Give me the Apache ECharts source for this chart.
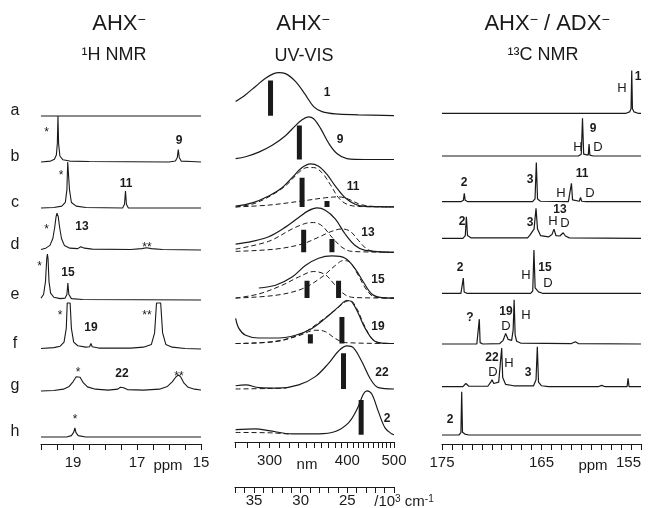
<!DOCTYPE html>
<html>
<head>
<meta charset="utf-8">
<script src="https://cdn.jsdelivr.net/npm/echarts@6/dist/echarts.min.js"></script>
<style>
    html, body { margin: 0; background: #fff; }
    #chart { width: 656px; height: 508px; }
</style>
</head>
<body>
<div id="chart"></div>
<script>
const FONT = '"Liberation Sans", Arial, sans-serif'
const INK = '#1a1a1a'
const ROW = 46          // px for an intensity of 1.0
const AXIS_Y = 444      // bottom edge of the grids (px)
const TICK_FONT = 15

const rowLetters = ['a', 'b', 'c', 'd', 'e', 'f', 'g', 'h']

// ---- 1H NMR, [ppm, intensity] ----
const h1a = [[20, 0], [15, 0]]
const h1b = [[20, 0], [19.7, 0.02], [19.58, 0.06], [19.52, 0.15], [19.49, 0.4], [19.47, 1.0], [19.45, 0.4], [19.41, 0.13], [19.32, 0.05], [19.1, 0.02], [18.5, 0.01], [16.0, 0], [15.8, 0.02], [15.74, 0.1], [15.71, 0.27], [15.68, 0.1], [15.62, 0.02], [15.3, 0.01], [15, 0]]
const h1c = [[20, 0], [19.6, 0.01], [19.35, 0.04], [19.24, 0.12], [19.19, 0.4], [19.165, 1.0], [19.135, 1.0], [19.11, 0.4], [19.05, 0.12], [18.9, 0.04], [18.6, 0.01], [17.45, 0], [17.39, 0.08], [17.36, 0.37], [17.33, 0.08], [17.27, 0], [15, 0]]
const h1d = [[20, 0.01], [19.85, 0.04], [19.72, 0.1], [19.63, 0.25], [19.57, 0.5], [19.53, 0.72], [19.5, 0.8], [19.46, 0.72], [19.42, 0.5], [19.36, 0.25], [19.27, 0.1], [19.1, 0.04], [18.85, 0.03], [18.76, 0.07], [18.7, 0.08], [18.64, 0.04], [18.4, 0.02], [17.2, 0.01], [16.85, 0.03], [16.7, 0.05], [16.55, 0.03], [16.2, 0.01], [15, 0]]
const h1e = [[20, 0.04], [19.92, 0.12], [19.86, 0.4], [19.82, 0.9], [19.8, 1.0], [19.78, 0.9], [19.75, 0.4], [19.7, 0.15], [19.6, 0.06], [19.4, 0.03], [19.25, 0.04], [19.19, 0.12], [19.16, 0.37], [19.13, 0.12], [19.05, 0.03], [18.7, 0.01], [15, 0]]
const h1f = [[20, 0.01], [19.6, 0.03], [19.4, 0.06], [19.28, 0.15], [19.21, 0.45], [19.18, 1.0], [19.09, 1.0], [19.05, 0.45], [18.98, 0.15], [18.85, 0.07], [18.6, 0.04], [18.48, 0.05], [18.44, 0.12], [18.4, 0.05], [18.2, 0.02], [17.2, 0.02], [16.8, 0.04], [16.55, 0.1], [16.45, 0.35], [16.39, 1.0], [16.26, 1.0], [16.2, 0.35], [16.1, 0.1], [15.9, 0.04], [15.5, 0.01], [15, 0]]
const h1g = [[20, 0], [19.6, 0.01], [19.3, 0.04], [19.12, 0.1], [19.0, 0.2], [18.9, 0.31], [18.84, 0.35], [18.78, 0.3], [18.68, 0.18], [18.55, 0.09], [18.3, 0.04], [17.9, 0.02], [17.6, 0.04], [17.52, 0.08], [17.47, 0.12], [17.42, 0.07], [17.3, 0.03], [16.8, 0.02], [16.3, 0.04], [16.05, 0.1], [15.9, 0.2], [15.78, 0.31], [15.7, 0.35], [15.63, 0.3], [15.53, 0.17], [15.4, 0.08], [15.2, 0.04], [15, 0.02]]
const h1h = [[20, 0], [19.2, 0], [19.05, 0.03], [18.98, 0.1], [18.94, 0.2], [18.91, 0.1], [18.84, 0.03], [18.6, 0], [15, 0]]
const h1Traces = [h1a, h1b, h1c, h1d, h1e, h1f, h1g, h1h]

// ---- UV-VIS, [10^3 cm^-1, absorbance] ----
const uvA = [[36.97, 0.31], [35.9, 0.46], [34.84, 0.64], [33.77, 0.82], [32.88, 0.92], [32.35, 0.94], [31.63, 0.92], [30.56, 0.75], [29.5, 0.46], [28.61, 0.2], [27.71, 0.09], [26.3, 0.04], [23.81, 0.02], [20, 0]]
const uvB = [[36.97, 0.02], [35.9, 0.06], [34.48, 0.16], [33.05, 0.31], [31.63, 0.52], [30.56, 0.74], [29.85, 0.87], [29.15, 0.93], [28.61, 0.89], [27.9, 0.69], [27.01, 0.36], [26.12, 0.13], [25.05, 0.02], [23.09, 0], [20, 0]]
const uvC = [[36.97, 0.02], [35.19, 0.09], [33.42, 0.24], [31.99, 0.42], [30.92, 0.64], [29.85, 0.86], [28.96, 0.94], [28.08, 0.89], [27.18, 0.71], [26.3, 0.46], [25.23, 0.2], [24.16, 0.06], [23.09, 0.01], [20, 0]]
const uvC1 = [[36.97, 0], [35.19, 0.06], [33.42, 0.22], [31.63, 0.46], [30.21, 0.75], [29.32, 0.86], [28.61, 0.86], [27.72, 0.75], [26.83, 0.49], [25.94, 0.2], [25.05, 0.06], [23.81, 0.01], [20, 0]]
const uvC2 = [[36.97, 0], [33.42, 0.04], [29.85, 0.13], [27.36, 0.2], [25.94, 0.22], [24.88, 0.17], [23.81, 0.07], [22.74, 0.02], [20, 0]]
const uvD = [[36.97, 0.18], [35.19, 0.24], [33.42, 0.34], [31.63, 0.55], [30.21, 0.76], [29.15, 0.91], [28.26, 0.97], [27.36, 0.92], [26.3, 0.73], [25.23, 0.4], [24.16, 0.15], [23.09, 0.04], [20, 0]]
const uvD1 = [[36.97, 0.07], [33.42, 0.24], [30.92, 0.51], [29.5, 0.63], [28.61, 0.65], [27.72, 0.58], [26.65, 0.33], [25.58, 0.11], [24.52, 0.02], [20, 0]]
const uvD2 = [[36.97, 0.02], [32.7, 0.07], [29.85, 0.18], [28.08, 0.33], [26.65, 0.46], [25.58, 0.51], [24.7, 0.46], [23.81, 0.26], [22.91, 0.07], [22.03, 0.02], [20, 0]]
const uvE = [[34.48, 0.22], [32.7, 0.28], [30.92, 0.46], [29.5, 0.71], [28.08, 0.87], [26.65, 0.92], [25.23, 0.87], [24.16, 0.64], [23.28, 0.35], [22.38, 0.09], [21.31, 0.01], [20, 0]]
const uvE1 = [[36.97, 0], [34.48, 0.09], [31.99, 0.28], [30.21, 0.46], [28.61, 0.58], [27.36, 0.51], [26.3, 0.28], [25.23, 0.07], [24.16, 0.01], [20, 0]]
const uvE2 = [[36.97, 0], [32.7, 0.06], [29.85, 0.2], [27.72, 0.46], [26.3, 0.71], [25.41, 0.82], [24.7, 0.78], [23.81, 0.49], [22.91, 0.17], [22.03, 0.02], [20, 0]]
const uvF = [[36.97, 0.55], [36.62, 0.33], [35.9, 0.18], [34.48, 0.12], [32.35, 0.12], [30.56, 0.18], [28.79, 0.33], [27.36, 0.55], [25.94, 0.8], [25.05, 0.94], [24.52, 0.91], [23.81, 0.65], [23.09, 0.33], [22.2, 0.07], [21.31, 0.01], [20, 0]]
const uvF1 = [[36.97, 0], [32.7, 0.04], [30.21, 0.17], [28.43, 0.29], [27.36, 0.26], [26.3, 0.11], [25.23, 0.02], [20, 0]]
const uvF2 = [[36.97, 0], [32.7, 0.05], [29.85, 0.22], [27.72, 0.51], [26.3, 0.73], [25.23, 0.91], [24.7, 0.94], [23.98, 0.76], [23.28, 0.44], [22.38, 0.11], [21.49, 0.01], [20, 0]]
const uvG = [[36.97, 0.07], [35.9, 0.09], [34.48, 0.03], [32.35, 0.02], [30.21, 0.09], [28.43, 0.27], [27.01, 0.56], [25.94, 0.83], [25.05, 0.94], [24.34, 0.9], [23.45, 0.6], [22.56, 0.23], [21.68, 0.03], [20, 0]]
const uvG1 = [[36.97, 0], [33.5, 0.01], [31.5, 0.02]]
const uvH = [[36.97, 0.11], [34.84, 0.13], [33.42, 0.09], [30.92, 0.02], [28.08, 0.02], [26.3, 0.07], [24.88, 0.26], [23.98, 0.55], [23.28, 0.89], [22.91, 0.96], [22.38, 0.89], [21.68, 0.51], [20.96, 0.15], [20.25, 0.02], [20, 0]]
const uvH1 = [[36.97, 0.05], [33, 0.04], [31, 0.01]]
const uvSolid = [uvA, uvB, uvC, uvD, uvE, uvF, uvG, uvH]
const uvDashed = [[], [], [uvC1, uvC2], [uvD1, uvD2], [uvE1, uvE2], [uvF1, uvF2], [uvG1], [uvH1]]
// calculated transitions, [10^3 cm^-1, strength]
const uvBars = [
    [[33.23, 0.77]],
    [[30.14, 0.74]],
    [[29.85, 0.64], [27.18, 0.13]],
    [[29.68, 0.49], [26.65, 0.29]],
    [[29.32, 0.38], [25.94, 0.38]],
    [[28.96, 0.2], [25.58, 0.58]],
    [[25.41, 0.78]],
    [[23.52, 0.76]]
]

// ---- 13C NMR, [ppm, intensity] ----
const c13a = [[175, 0], [156.5, 0], [156.15, 0.03], [156.0, 0.1], [155.93, 0.93], [155.86, 0.1], [155.7, 0.03], [155.3, 0], [155, 0]]
const c13b = [[175, 0], [161.3, 0], [161.0, 0.04], [160.88, 0.82], [160.76, 0.04], [160.3, 0.02], [160.22, 0.26], [160.14, 0.02], [159.8, 0], [155, 0]]
const c13c = [[175, 0], [173.1, 0], [172.85, 0.03], [172.76, 0.18], [172.67, 0.03], [172.4, 0], [165.9, 0], [165.65, 0.06], [165.52, 0.85], [165.4, 0.06], [165.1, 0.01], [162.3, 0], [162.1, 0.04], [161.99, 0.4], [161.88, 0.04], [161.2, 0.01], [161.08, 0.09], [160.96, 0.01], [160.5, 0], [155, 0]]
const c13d = [[175, 0], [172.9, 0], [172.66, 0.06], [172.55, 0.47], [172.44, 0.06], [172.1, 0.01], [166.4, 0.01], [166.2, 0.06], [166.05, 0.04], [165.75, 0.2], [165.55, 0.65], [165.4, 0.2], [165.1, 0.06], [164.3, 0.03], [163.95, 0.08], [163.75, 0.2], [163.55, 0.06], [163.15, 0.05], [162.82, 0.12], [162.6, 0.05], [162.2, 0.01], [155, 0]]
const c13e = [[175, 0], [173.1, 0], [172.95, 0.03], [172.86, 0.33], [172.77, 0.03], [172.5, 0], [166.1, 0], [165.88, 0.05], [165.76, 0.94], [165.64, 0.12], [165.5, 0.1], [165.3, 0.03], [164.9, 0], [155, 0]]
const c13f = [[175, 0], [171.5, 0], [171.33, 0.03], [171.25, 0.54], [171.17, 0.03], [170.9, 0], [169.2, 0.01], [168.85, 0.08], [168.6, 0.23], [168.35, 0.1], [168.0, 0.08], [167.85, 0.3], [167.75, 0.96], [167.65, 0.2], [167.5, 0.06], [167.1, 0.02], [162, 0.01], [161.6, 0.05], [161.3, 0.01], [155, 0]]
const c13g = [[175, 0], [172.9, 0], [172.6, 0.07], [172.3, 0.01], [170.4, 0.01], [170.1, 0.1], [169.97, 0.15], [169.8, 0.07], [169.3, 0.1], [169.1, 0.6], [169.0, 0.84], [168.9, 0.2], [168.6, 0.05], [167.8, 0.02], [165.8, 0.02], [165.55, 0.15], [165.42, 0.87], [165.3, 0.1], [165.0, 0.02], [164.3, 0], [159.3, 0], [158.95, 0.03], [158.6, 0], [156.4, 0], [156.3, 0.18], [156.2, 0], [155, 0]]
const c13h = [[175, 0], [173.3, 0], [173.1, 0.05], [173.02, 0.94], [172.94, 0.06], [172.7, 0.02], [172.3, 0], [155, 0]]
const c13Traces = [c13a, c13b, c13c, c13d, c13e, c13f, c13g, c13h]

// ---- axis ticks ----
const h1Ticks = [15, 15.5, 16, 16.5, 17, 17.5, 18, 18.5, 19, 19.5, 20]
const h1Labels = [15, 17, 19]
const nmTicks = [270, 280, 290, 300, 310, 320, 330, 340, 350, 360, 370, 380, 390, 400, 410, 420, 430, 440, 450, 460, 470, 480, 490, 500]
const nmLabels = [500, 400, 300]
const kTicks = [20, 21, 22, 23, 24, 25, 26, 27, 28, 29, 30, 31, 32, 33, 34, 35, 36, 37]
const kLabels = [25, 30, 35]
const c13Ticks = [155, 156, 157, 158, 159, 160, 161, 162, 163, 164, 165, 166, 167, 168, 169, 170, 171, 172, 173, 174, 175]
const c13Labels = [155, 165, 175]

// ---- layout: baseline of each row (px) ----
const baseH1 = [116, 162, 208, 250, 300, 349, 391, 437]
const baseUV = [116, 160, 207.7, 253.3, 299.3, 345, 390.7, 436.7]
const baseC13 = [113.3, 156, 201.7, 238.3, 293.3, 344, 386.7, 435]

// ---- annotations [x, y, text, kind] ----
const notesH1 = [
    [46.7, 130, '*', 's'], [179, 141, '9', 'b'],
    [61, 173, '*', 's'], [126, 184, '11', 'b'],
    [46.7, 227, '*', 's'], [82, 227, '13', 'b'], [147, 245, '**', 's'],
    [39.5, 264, '*', 's'], [68, 273, '15', 'b'],
    [60, 313, '*', 's'], [91, 328, '19', 'b'], [147, 313, '**', 's'],
    [78, 370, '*', 's'], [122, 374, '22', 'b'], [179, 374, '**', 's'],
    [75, 417, '*', 's']
]
const notesUV = [
    [327, 93, '1', 'b'], [340, 140, '9', 'b'], [353, 187, '11', 'b'], [368, 233, '13', 'b'],
    [378, 280, '15', 'b'], [378, 327, '19', 'b'], [382, 373, '22', 'b'], [387, 419, '2', 'b']
]
const notesC13 = [
    [622, 88, 'H', 'n'], [638, 77, '1', 'b'],
    [593, 129, '9', 'b'], [578, 147, 'H', 'n'], [598, 147, 'D', 'n'],
    [464, 183, '2', 'b'], [530, 180, '3', 'b'], [582, 174, '11', 'b'], [561, 193, 'H', 'n'], [590, 193, 'D', 'n'],
    [462, 222, '2', 'b'], [530, 223, '3', 'b'], [560, 210, '13', 'b'], [553, 221, 'H', 'n'], [565, 223, 'D', 'n'],
    [460, 268, '2', 'b'], [526, 275, 'H', 'n'], [545, 268, '15', 'b'], [548, 283, 'D', 'n'],
    [470, 318, '?', 'b'], [506, 312, '19', 'b'], [506, 326, 'D', 'n'], [526, 315, 'H', 'n'],
    [492, 358, '22', 'b'], [493, 372, 'D', 'n'], [509, 363, 'H', 'n'], [528, 373, '3', 'b'],
    [450, 420, '2', 'b']
]

function trace(data, base, xi, yi, opt) {
    const lift = AXIS_Y - base
    return {
        type: 'line',
        xAxisIndex: xi,
        yAxisIndex: yi,
        data: data.map(p => [p[0], lift + p[1] * ROW]),
        symbol: 'none',
        smooth: opt.smooth || false,
        silent: true,
        animation: false,
        lineStyle: { color: INK, width: opt.width || 1.1, type: opt.dash || 'solid', cap: 'butt' }
    }
}

function xAxis(grid, min, max, ticks, labels, extra) {
    return Object.assign({
        type: 'value',
        gridIndex: grid,
        position: 'bottom',
        min: min,
        max: max,
        inverse: true,
        axisLine: { show: true, onZero: false, lineStyle: { color: INK, width: 1.2 } },
        axisTick: { show: true, length: 6, customValues: ticks, lineStyle: { color: INK, width: 1 } },
        splitLine: { show: false },
        axisLabel: { customValues: labels, color: INK, fontSize: TICK_FONT, fontFamily: FONT, margin: 11 }
    }, extra || {})
}

function text(x, y, str, size, weight) {
    return {
        type: 'text', x: x, y: y, silent: true,
        style: {
            text: str, fill: INK, fontSize: size, fontFamily: FONT, fontWeight: weight || 'normal',
            align: 'center', verticalAlign: 'middle', textAlign: 'center', textVerticalAlign: 'middle'
        }
    }
}

function supText(x, y, str, size, supSize) {
    return {
        type: 'text', x: x, y: y, silent: true,
        style: {
            text: str, fill: INK, fontSize: size, fontFamily: FONT,
            align: 'center', verticalAlign: 'middle', textAlign: 'center', textVerticalAlign: 'middle',
            rich: {
                m: { fontSize: size, fontFamily: FONT, fill: INK, color: INK },
                s: { fontSize: supSize, fontFamily: FONT, fill: INK, color: INK, verticalAlign: 'top' }
            }
        }
    }
}

function notes(list) {
    return list.map(n => {
        if (n[3] === 's') return text(n[0], n[1] + 3, n[2], 12)
        if (n[3] === 'n') return text(n[0], n[1], n[2], 13)
        return text(n[0], n[1], n[2], 12, 'bold')
    })
}

let series = []
h1Traces.forEach((d, i) => series.push(trace(d, baseH1[i], 0, 0, {})))
uvSolid.forEach((d, i) => {
    series.push(trace(d, baseUV[i], 1, 1, { smooth: 0.35, width: 1.2 }))
    uvDashed[i].forEach(dd => series.push(trace(dd, baseUV[i], 1, 1, { smooth: 0.35, width: 1, dash: [5, 3] })))
    uvBars[i].forEach(b => series.push(trace([[b[0], 0], b], baseUV[i], 1, 1, { width: 5 })))
})
c13Traces.forEach((d, i) => series.push(trace(d, baseC13[i], 3, 2, { width: 1.2 })))

let graphics = []
graphics.push(supText(119, 24, '{m|AHX}{s|−}', 22, 14))
graphics.push(text(114, 55, '¹H NMR', 18))
graphics.push(supText(303, 24, '{m|AHX}{s|−}', 22, 14))
graphics.push(text(304, 56, 'UV-VIS', 18))
graphics.push(supText(547, 24, '{m|AHX}{s|−}{m| / ADX}{s|−}', 22, 14))
graphics.push(text(543, 55, '¹³C NMR', 18))
rowLetters.forEach((l, i) => graphics.push(text(15, baseH1[i] - 5, l, 16)))
graphics.push(text(168, 466, 'ppm', TICK_FONT))
graphics.push(text(307, 465, 'nm', TICK_FONT))
graphics.push(text(593, 466, 'ppm', TICK_FONT))
graphics.push(supText(404, 502, '{m|/10}{s|3}{m| cm}{s|-1}', TICK_FONT, 10))
graphics = graphics.concat(notes(notesH1), notes(notesUV), notes(notesC13))

let chart = echarts.init(document.getElementById('chart'), null, { renderer: 'canvas' })
let option = {
    backgroundColor: '#ffffff',
    animation: false,
    grid: [
        { left: 41, top: 60, width: 160, height: 384 },
        { left: 235, top: 60, width: 159, height: 384 },
        { left: 442, top: 60, width: 199, height: 384 }
    ],
    xAxis: [
        xAxis(0, 15, 20, h1Ticks, h1Labels),
        xAxis(1, 20, 10000 / 270, nmTicks.map(n => 10000 / n), nmLabels.map(n => 10000 / n), {
            axisLabel: {
                customValues: nmLabels.map(n => 10000 / n), color: INK, fontSize: TICK_FONT, fontFamily: FONT, margin: 11,
                formatter: v => String(Math.round(10000 / v))
            }
        }),
        xAxis(1, 20, 10000 / 270, kTicks, kLabels, {
            offset: 45,
            axisLabel: { customValues: kLabels, color: INK, fontSize: TICK_FONT, fontFamily: FONT, margin: 6 }
        }),
        xAxis(2, 155, 175, c13Ticks, c13Labels, {
            axisLabel: { customValues: c13Labels, color: INK, fontSize: TICK_FONT, fontFamily: FONT, margin: 11, alignMinLabel: 'right' }
        })
    ],
    yAxis: [0, 1, 2].map(g => ({ type: 'value', gridIndex: g, min: 0, max: 384, show: false })),
    series: series,
    graphic: graphics
}
option && chart.setOption(option)
</script>
</body>
</html>
